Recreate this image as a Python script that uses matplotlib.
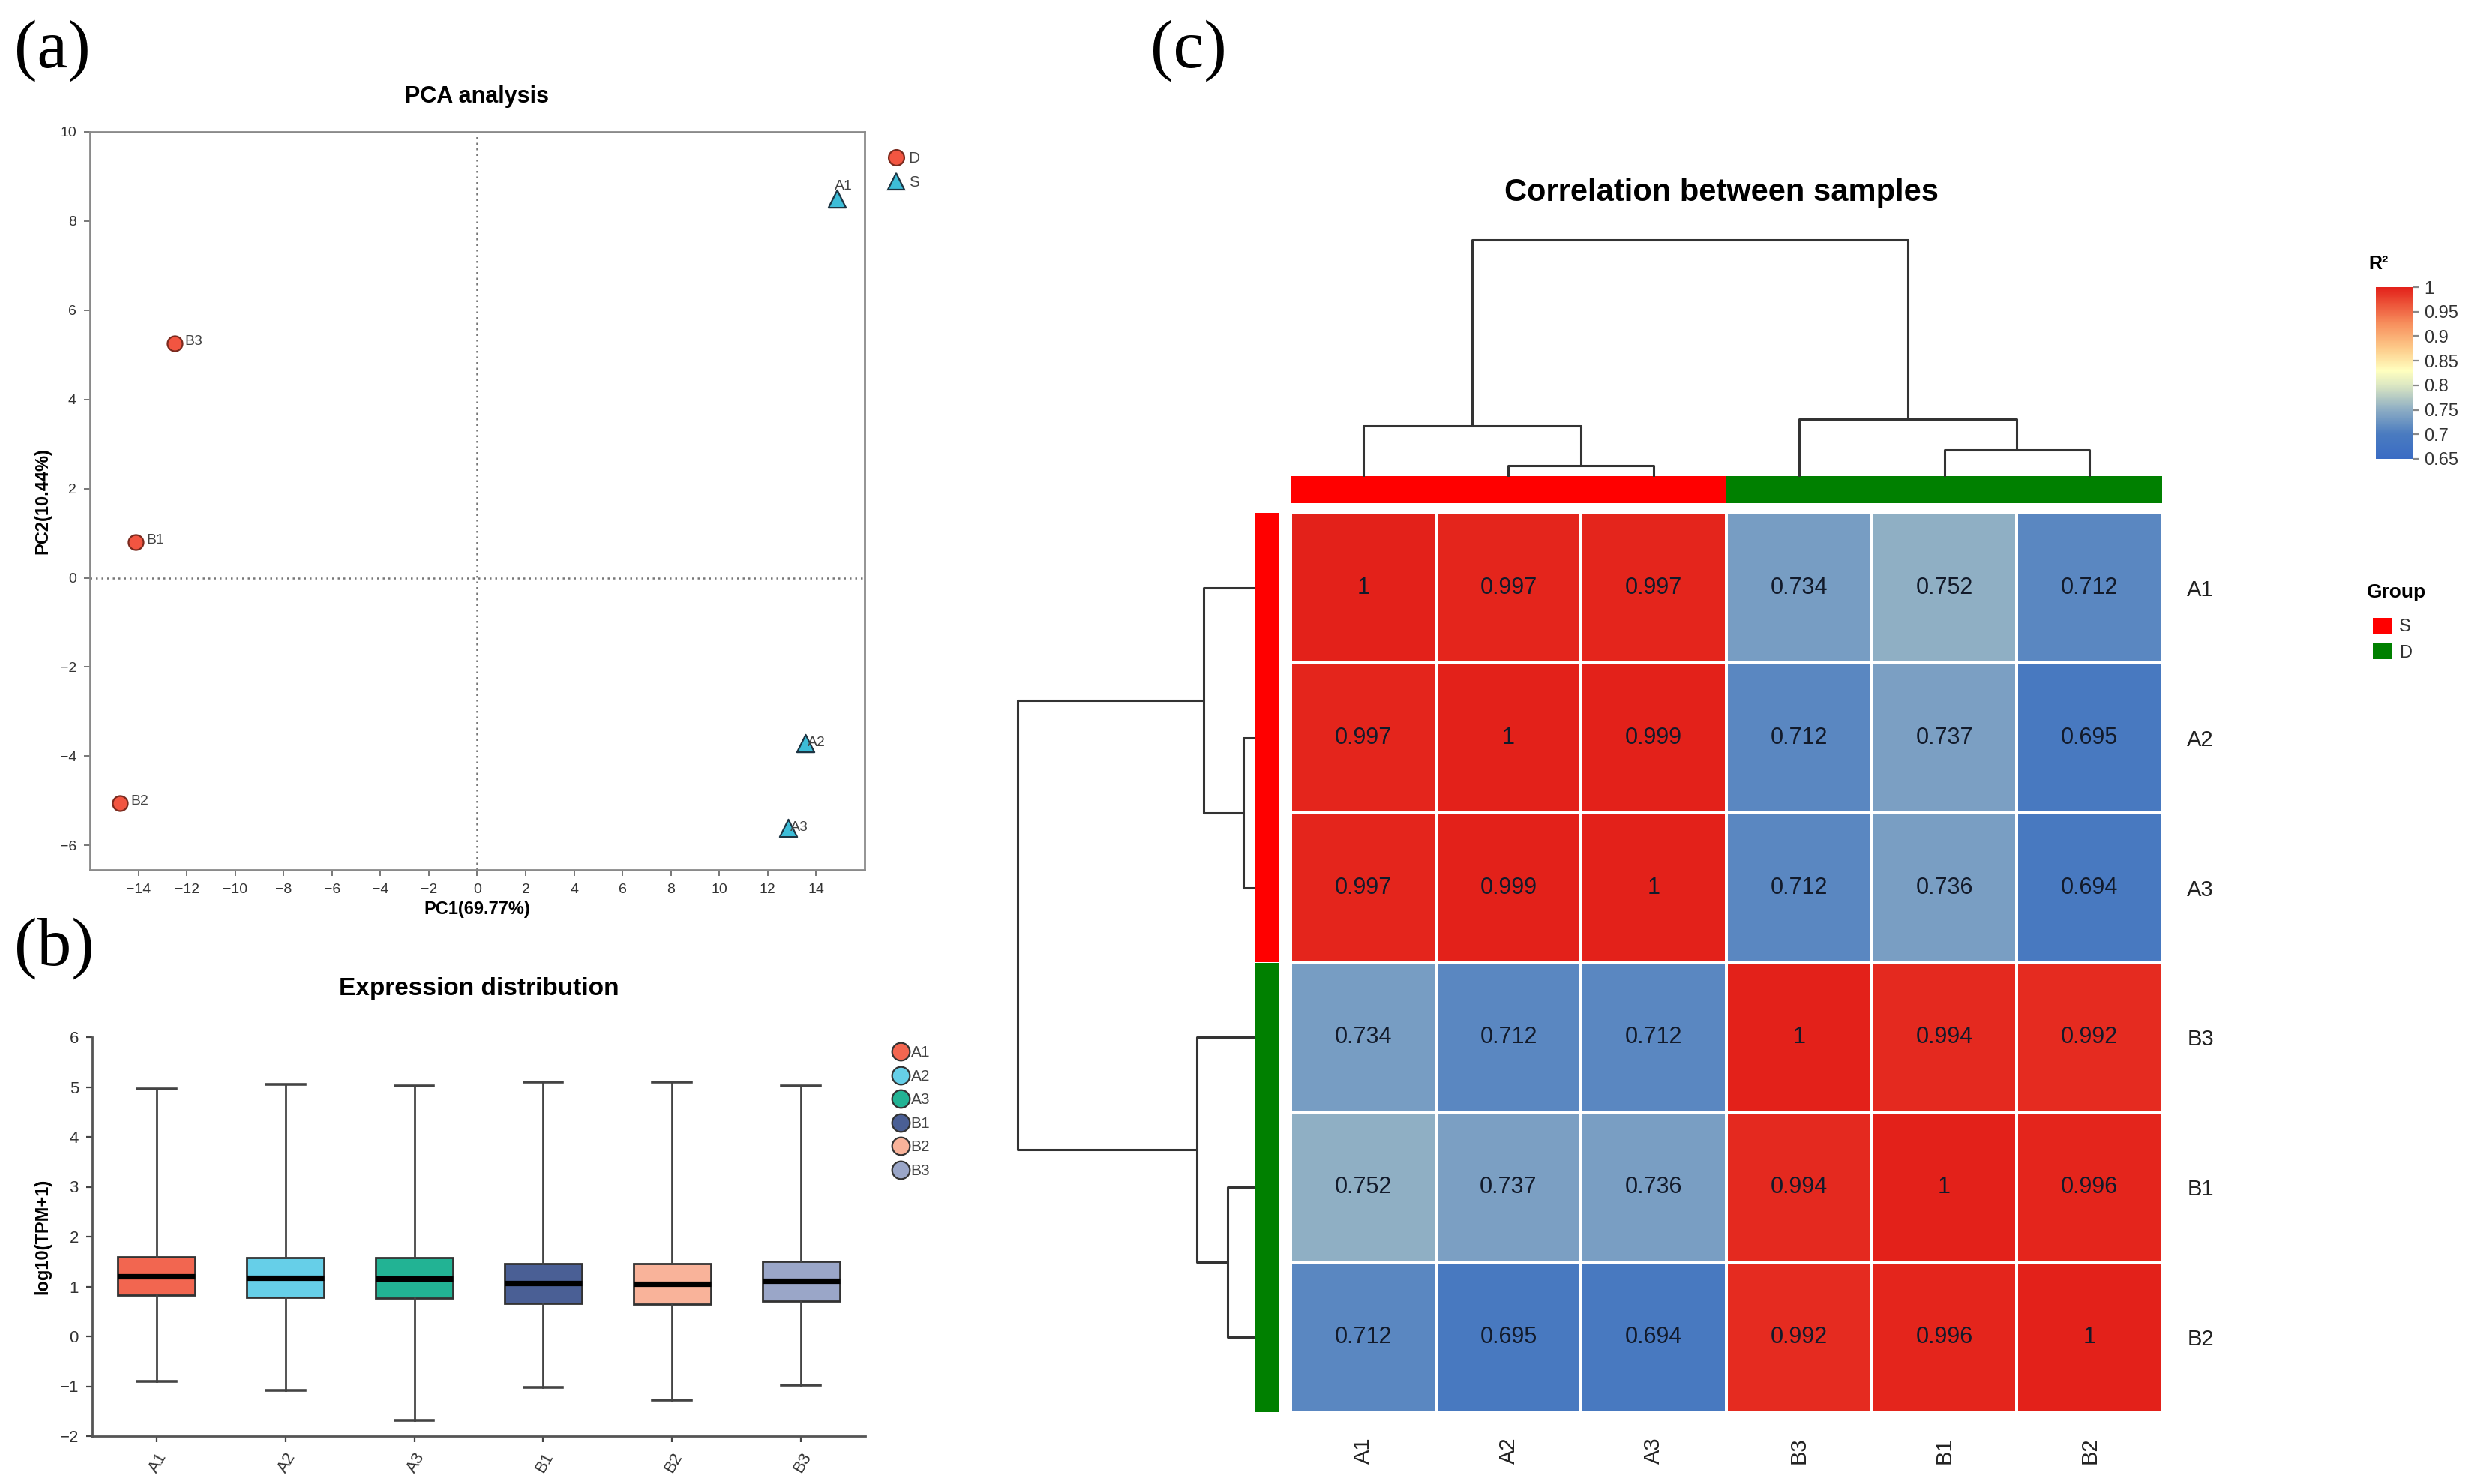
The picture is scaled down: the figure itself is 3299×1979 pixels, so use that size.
import numpy as np
import matplotlib
matplotlib.use('Agg')
import matplotlib.pyplot as plt
from matplotlib.colors import LinearSegmentedColormap
from matplotlib.lines import Line2D
from matplotlib.patches import Patch

plt.rcParams['font.family'] = ['Liberation Sans', 'DejaVu Sans']

W, H = 3299, 1979
DPI = 200

# ---- (a) PCA ----
pca_samples = ['B3', 'B1', 'B2', 'A1', 'A2', 'A3']
pca_group = ['D', 'D', 'D', 'S', 'S', 'S']
pc1 = [-12.5, -14.1, -14.75, 14.85, 13.55, 12.85]
pc2 = [5.25, 0.8, -5.05, 8.5, -3.7, -5.6]
pca_xticks = list(range(-14, 15, 2))
pca_yticks = list(range(-6, 11, 2))

# ---- (b) expression boxes ----
box_samples = ['A1', 'A2', 'A3', 'B1', 'B2', 'B3']
box_whislo = [-0.9, -1.08, -1.68, -1.02, -1.28, -0.97]
box_q1 = [0.82, 0.78, 0.76, 0.66, 0.64, 0.71]
box_med = [1.21, 1.18, 1.16, 1.07, 1.06, 1.12]
box_q3 = [1.6, 1.58, 1.58, 1.46, 1.46, 1.5]
box_whishi = [4.96, 5.05, 5.03, 5.1, 5.1, 5.03]
box_colors = ['#F26650', '#66CFE8', '#22B394', '#4A5F95', '#F9B39A', '#9AA6C8']

# ---- (c) correlation heatmap ----
corr_labels = ['A1', 'A2', 'A3', 'B3', 'B1', 'B2']
corr_groups = ['S', 'S', 'S', 'D', 'D', 'D']
corr = np.array([
    [1, 0.997, 0.997, 0.734, 0.752, 0.712],
    [0.997, 1, 0.999, 0.712, 0.737, 0.695],
    [0.997, 0.999, 1, 0.712, 0.736, 0.694],
    [0.734, 0.712, 0.712, 1, 0.994, 0.992],
    [0.752, 0.737, 0.736, 0.994, 1, 0.996],
    [0.712, 0.695, 0.694, 0.992, 0.996, 1],
])
# merges (left, right, height), leaves in display order, new nodes numbered from 6
merges = [(1, 2, 15), (4, 5, 36), (0, 6, 68), (3, 7, 77), (8, 9, 316)]
group_colors = {'S': '#FF0000', 'D': '#008000'}
cbar_ticks = [0.65, 0.7, 0.75, 0.8, 0.85, 0.9, 0.95, 1]


def box(l, t, r, b):
    return [l / W, 1 - b / H, (r - l) / W, (b - t) / H]


fig = plt.figure(figsize=(W / DPI, H / DPI), dpi=DPI)

serif = ['Liberation Serif', 'DejaVu Serif']
fig.text(19 / W, 1 - 68 / H, '(a)', family=serif, fontsize=33, va='center')
fig.text(19 / W, 1 - 1265 / H, '(b)', family=serif, fontsize=33, va='center')
fig.text(1534 / W, 1 - 68 / H, '(c)', family=serif, fontsize=33, va='center')

# ---------- PCA ----------
ax = fig.add_axes(box(120, 176, 1153, 1160))
styles = {'D': dict(marker='o', fc='#F25541', ec='#7A2A1E', s=52),
          'S': dict(marker='^', fc='#3DBDD8', ec='#1D3442', s=70)}
for g in ['D', 'S']:
    idx = [i for i, gg in enumerate(pca_group) if gg == g]
    st = styles[g]
    ax.scatter([pc1[i] for i in idx], [pc2[i] for i in idx], marker=st['marker'],
               s=st['s'], facecolor=st['fc'], edgecolor=st['ec'], linewidth=0.8, zorder=3)
for name, x, y in zip(pca_samples, pc1, pc2):
    if name == 'A1':
        off = (-1, 6)
    elif name.startswith('A'):
        off = (1, 0)
    else:
        off = (5, 1)
    ax.annotate(name, (x, y), xytext=off, textcoords='offset points',
                fontsize=7, color='#444444', va='center', ha='left', zorder=4)
ax.axvline(0, color='#777777', lw=0.9, ls=(0, (1, 2)))
ax.axhline(0, color='#777777', lw=0.9, ls=(0, (1, 2)))
ax.set_xlim(-16, 16)
ax.set_ylim(-6.55, 10)
ax.set_xticks(pca_xticks)
ax.set_yticks(pca_yticks)
ax.set_xticklabels(['\u2212' + str(-t) if t < 0 else str(t) for t in pca_xticks])
ax.set_yticklabels(['\u2212' + str(-t) if t < 0 else str(t) for t in pca_yticks])
ax.tick_params(labelsize=7, length=3, width=0.7, color='#777777', labelcolor='#333333')
for sp in ax.spines.values():
    sp.set_color('#8a8a8a')
    sp.set_linewidth(1.0)
ax.set_xlabel('PC1(69.77%)', fontsize=8.5, fontweight='bold', labelpad=2)
ax.set_ylabel('PC2(10.44%)', fontsize=8.5, fontweight='bold', labelpad=4)
ax.set_title('PCA analysis', fontsize=11, fontweight='bold', pad=14)
handles = [Line2D([], [], ls='', marker='o', ms=7.5, mfc='#F25541', mec='#7A2A1E', mew=0.8, label='D'),
           Line2D([], [], ls='', marker='^', ms=8, mfc='#3DBDD8', mec='#1D3442', mew=0.8, label='S')]
fig.legend(handles=handles, loc='upper left', bbox_to_anchor=(1172 / W, 1 - 192 / H),
           frameon=False, fontsize=7.5, handletextpad=0.2, labelspacing=0.6,
           borderpad=0, handlelength=1.2, labelcolor='#444444')

# ---------- Box plot ----------
ax = fig.add_axes(box(123, 1383, 1154, 1915))
stats = []
for i, name in enumerate(box_samples):
    stats.append(dict(label=name, whislo=box_whislo[i], q1=box_q1[i], med=box_med[i],
                      q3=box_q3[i], whishi=box_whishi[i], fliers=[]))
bp = ax.bxp(stats, positions=range(len(stats)), widths=0.6, capwidths=0.3,
            patch_artist=True, showfliers=False,
            boxprops=dict(edgecolor='#333333', linewidth=1.0),
            medianprops=dict(color='black', linewidth=2.6),
            whiskerprops=dict(color='#444444', linewidth=1.0),
            capprops=dict(color='#444444', linewidth=1.3))
for patch, c in zip(bp['boxes'], box_colors):
    patch.set_facecolor(c)
ax.set_xlim(-0.5, 5.5)
ax.set_ylim(-2, 6)
ax.set_yticks(range(-2, 7))
ax.set_xticks(range(len(box_samples)))
ax.set_xticklabels(box_samples, rotation=60, ha='right', rotation_mode='anchor')
ax.tick_params(labelsize=8, length=3, width=0.8, color='#444444', labelcolor='#333333')
for sp in ['top', 'right']:
    ax.spines[sp].set_visible(False)
for sp in ['left', 'bottom']:
    ax.spines[sp].set_color('#555555')
    ax.spines[sp].set_linewidth(1.0)
ax.set_ylabel('log10(TPM+1)', fontsize=8.5, fontweight='bold', labelpad=4)
ax.set_title('Expression distribution', fontsize=12, fontweight='bold', pad=20)
handles = [Line2D([], [], ls='', marker='o', ms=8.5, mfc=c, mec='#333333', mew=0.8, label=n)
           for n, c in zip(box_samples, box_colors)]
fig.legend(handles=handles, loc='upper left', bbox_to_anchor=(1178 / W, 1 - 1384 / H),
           frameon=False, fontsize=7.5, handletextpad=0.05, labelspacing=0.6,
           borderpad=0, handlelength=1.2, labelcolor='#444444')

# ---------- Heatmap ----------
cmap = LinearSegmentedColormap.from_list('r2', [
    (0.0, '#3A6CC4'), (0.143, '#4A7BC0'), (0.286, '#8DADC4'), (0.43, '#DDE8C2'),
    (0.514, '#FFFFBF'), (0.643, '#FDCB8A'), (0.786, '#F7905E'), (1.0, '#E3211A')])

HL, HT, HR, HB = 1721, 684, 2883, 1883
n = len(corr_labels)
axh = fig.add_axes(box(HL, HT, HR, HB))
mesh = axh.pcolormesh(corr, cmap=cmap, vmin=0.65, vmax=1, edgecolors='white', linewidth=1.4)
axh.set_xlim(0, n)
axh.set_ylim(n, 0)
for i in range(n):
    for j in range(n):
        axh.text(j + 0.5, i + 0.5, f'{corr[i, j]:g}', ha='center', va='center',
                 fontsize=11, color='#121a2a')
axh.set_xticks(np.arange(n) + 0.5)
axh.set_xticklabels(corr_labels, rotation=90, fontsize=10.5, color='#222222')
axh.set_yticks(np.arange(n) + 0.5)
axh.set_yticklabels(corr_labels, fontsize=10.5, color='#222222')
axh.yaxis.tick_right()
axh.tick_params(length=0, pad=12)
for sp in axh.spines.values():
    sp.set_visible(False)

# group colour bars
axr = fig.add_axes(box(1673, HT, 1706, HB))
for i, g in enumerate(corr_groups):
    axr.bar(0.5, 1, bottom=i, width=1, color=group_colors[g], linewidth=0)
axr.set_xlim(0, 1)
axr.set_ylim(n, 0)
axr.axis('off')

axc = fig.add_axes(box(HL, 635, HR, 671))
for j, g in enumerate(corr_groups):
    axc.bar(j + 0.5, 1, width=1, color=group_colors[g], linewidth=0)
axc.set_xlim(0, n)
axc.set_ylim(0, 1)
axc.axis('off')


def draw_dendro(ax, merges, n, top):
    pos = {i: i + 0.5 for i in range(n)}
    hgt = {i: 0 for i in range(n)}
    for k, (a, b, h) in enumerate(merges):
        xs = [pos[a], pos[a], pos[b], pos[b]]
        ys = [hgt[a], h, h, hgt[b]]
        if top:
            ax.plot(xs, ys, color='#333333', lw=1.1, solid_capstyle='butt')
        else:
            ax.plot(ys, xs, color='#333333', lw=1.1, solid_capstyle='butt')
        pos[n + k] = (pos[a] + pos[b]) / 2
        hgt[n + k] = h


DH = 330
axdc = fig.add_axes(box(HL, 636 - DH, HR, 636))
draw_dendro(axdc, merges, n, True)
axdc.set_xlim(0, n)
axdc.set_ylim(0, DH)
axdc.axis('off')

axdr = fig.add_axes(box(1673 - DH, HT, 1673, HB))
draw_dendro(axdr, merges, n, False)
axdr.set_xlim(DH, 0)
axdr.set_ylim(n, 0)
axdr.axis('off')

fig.text(2296 / W, 1 - 257 / H, 'Correlation between samples', ha='center', va='center',
         fontsize=15, fontweight='bold')

# colour bar
cax = fig.add_axes(box(3168, 383, 3218, 612))
cb = fig.colorbar(mesh, cax=cax, ticks=cbar_ticks)
cb.outline.set_visible(False)
cb.ax.set_yticklabels([f'{t:g}' for t in cbar_ticks])
cb.ax.tick_params(labelsize=8.5, length=3, width=0.8, color='#888888', labelcolor='#333333', pad=2)
fig.text(3158 / W, 1 - 352 / H, 'R\u00b2', fontsize=9, fontweight='bold', va='center')

fig.text(3156 / W, 1 - 790 / H, 'Group', fontsize=9.5, fontweight='bold', va='center')
ghandles = [Patch(facecolor=group_colors[g], label=g) for g in ['S', 'D']]
fig.legend(handles=ghandles, loc='upper left', bbox_to_anchor=(3152 / W, 1 - 812 / H),
           frameon=False, fontsize=8.5, handlelength=1.1, handleheight=1.0,
           handletextpad=0.4, labelspacing=0.45, borderpad=0, labelcolor='#333333')

fig.savefig('out.png', dpi=DPI)
